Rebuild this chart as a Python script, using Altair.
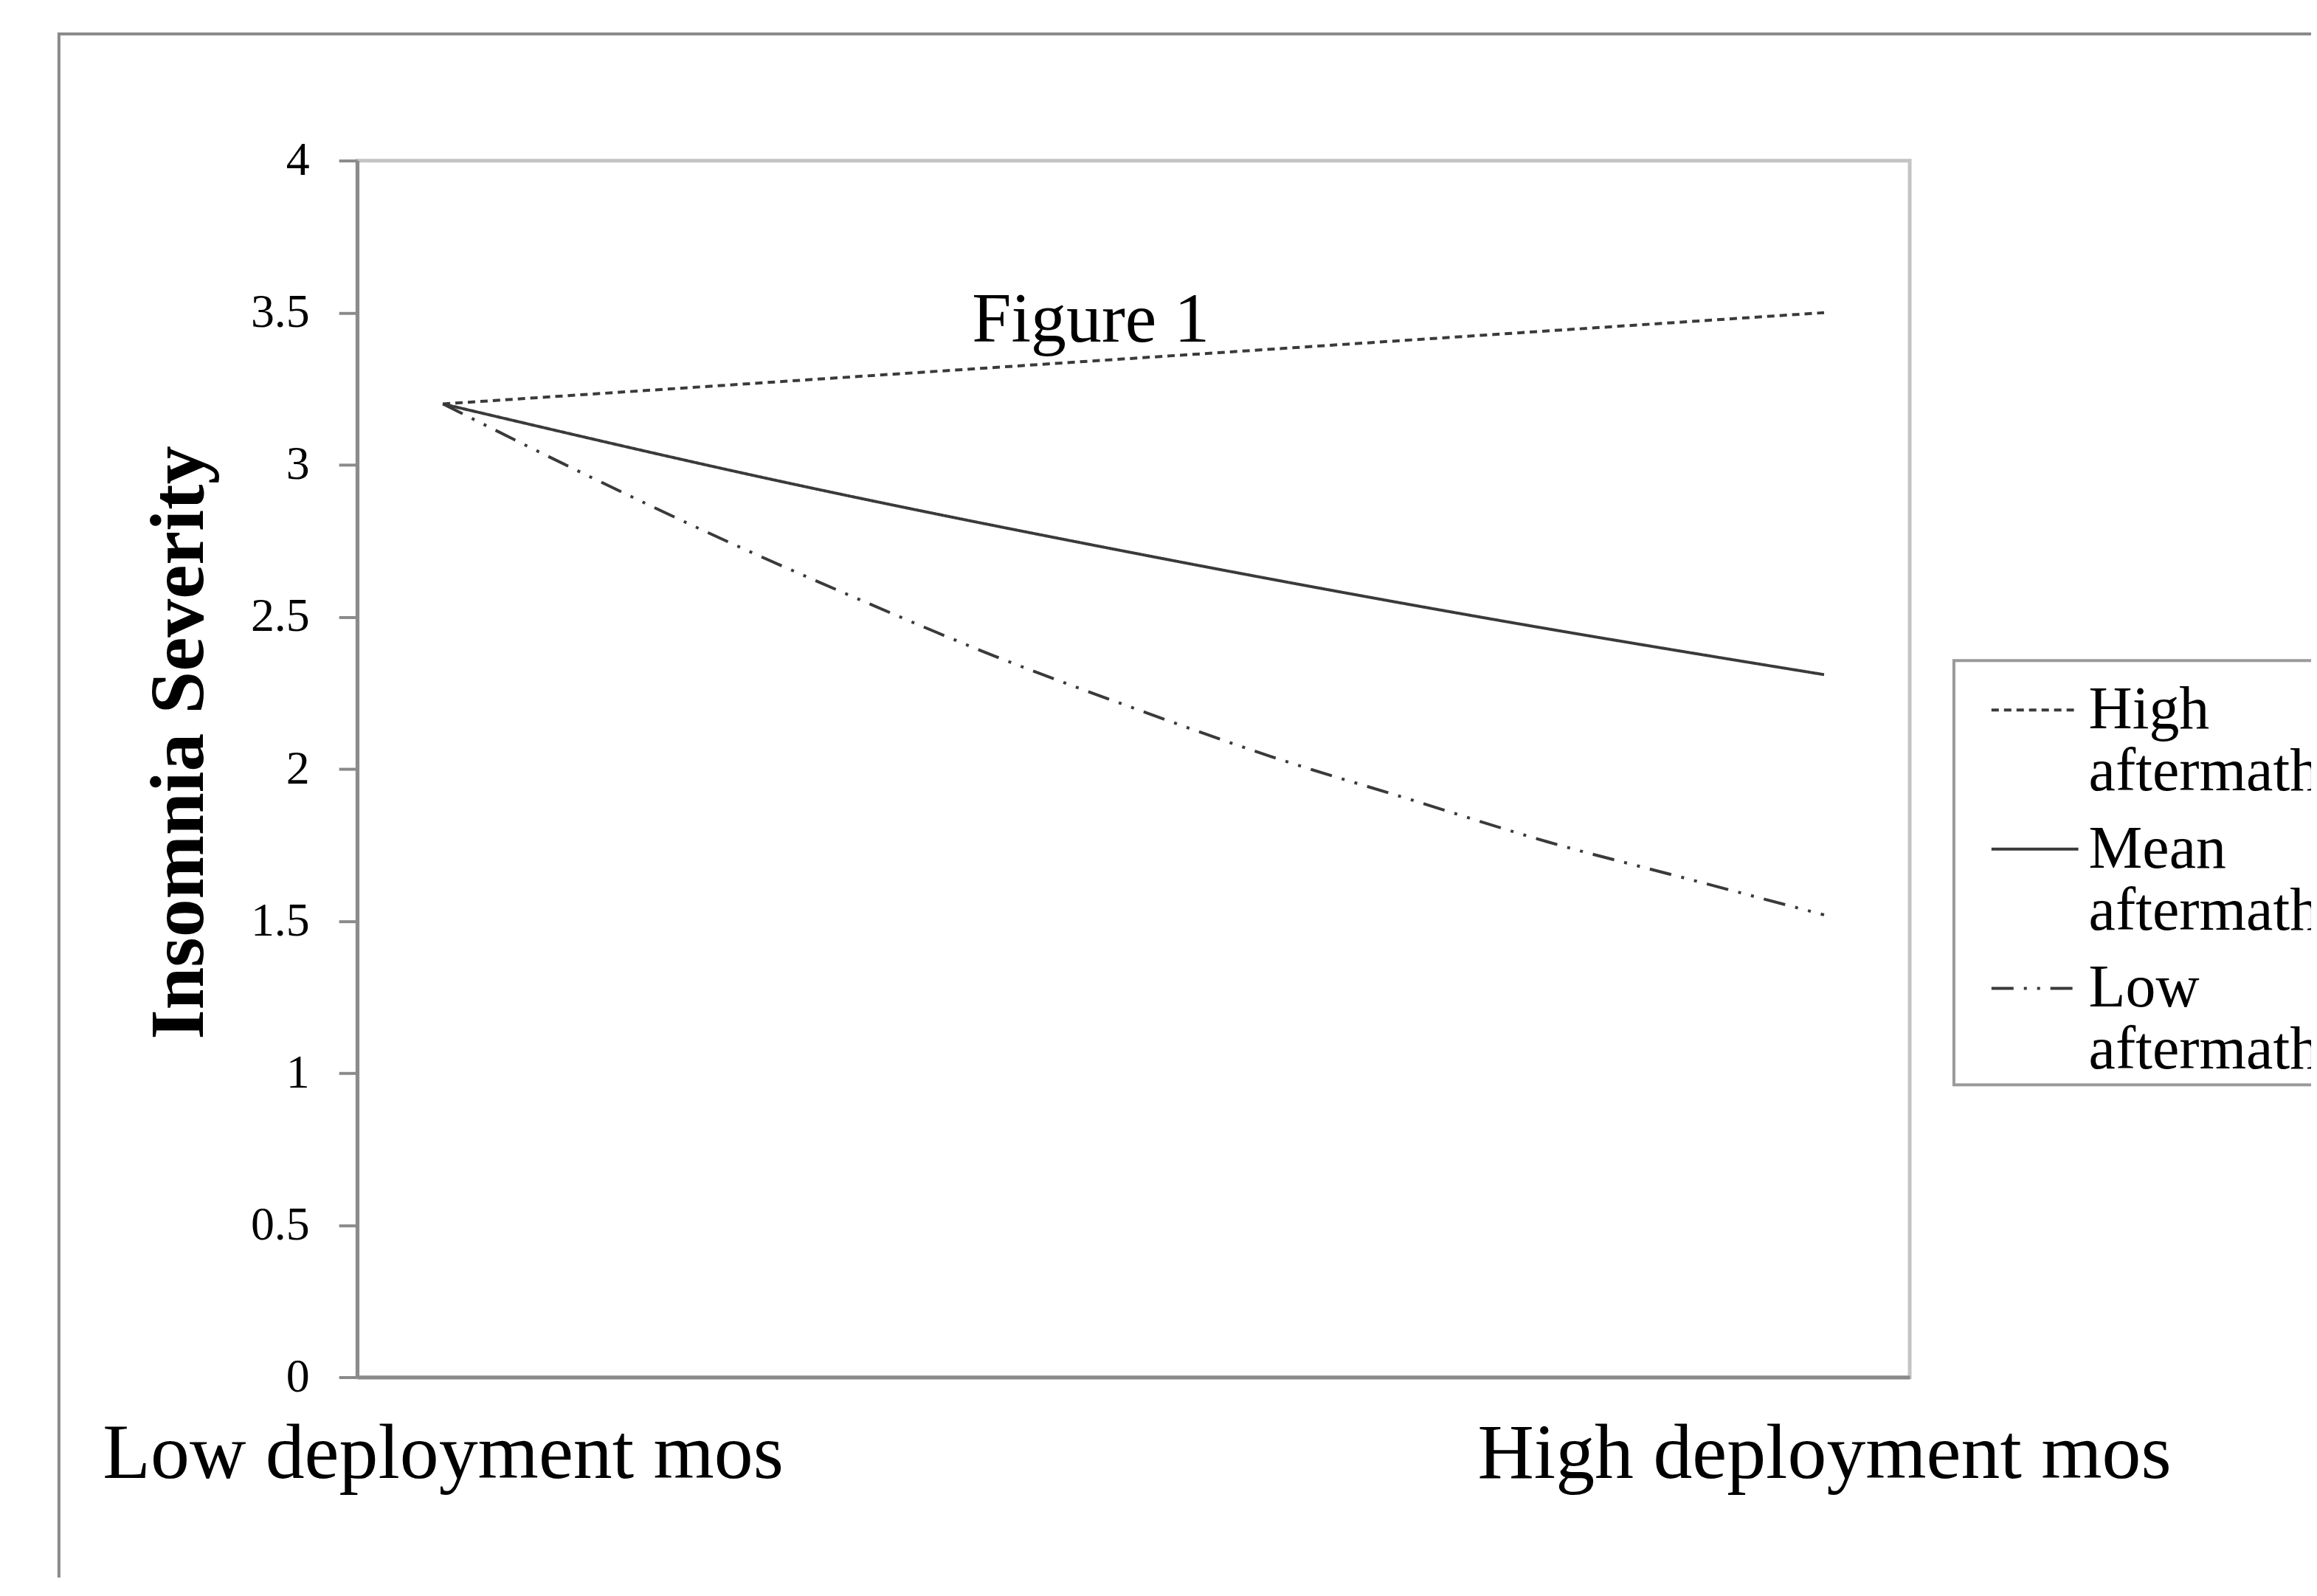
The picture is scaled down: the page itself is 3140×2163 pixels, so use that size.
import altair as alt
import pandas as pd

# ---------------- data ----------------
series = ["High aftermath", "Mean aftermath", "Low aftermath"]

high_x = [0.0, 1.0]
high_y = [3.20, 3.50]

mean_x = [0.0, 0.25, 0.5, 0.75, 1.0]
mean_y = [3.20, 2.94, 2.71, 2.50, 2.31]

low_x = [0.0, 0.1, 0.2, 0.3, 0.4, 0.5, 0.6, 0.7, 0.8, 0.9, 1.0]
low_y = [3.20, 2.975, 2.76, 2.56, 2.37, 2.20, 2.04, 1.90, 1.76, 1.64, 1.52]

y_ticks = [0, 0.5, 1, 1.5, 2, 2.5, 3, 3.5, 4]
x_label_values = [0, 1]
x_labels = ["Low deployment mos", "High deployment mos"]
y_title = "Insomnia Severity"
fig_label = "Figure 1"

df = pd.DataFrame({
    "series": [series[0]] * len(high_x) + [series[1]] * len(mean_x) + [series[2]] * len(low_x),
    "x": high_x + mean_x + low_x,
    "y": high_y + mean_y + low_y,
})
one = pd.DataFrame({"k": [0]})

FONT = "Liberation Serif"
AXIS_GRAY = "#8a8a8a"
LINE = "#3a3a3a"

x_scale = alt.Scale(domain=[-0.062, 1.062], nice=False, zero=False)
y_scale = alt.Scale(domain=[0, 4], nice=False, zero=True)

label_expr = f"datum.value == 0 ? '{x_labels[0]}' : '{x_labels[1]}'"

lines = alt.Chart(df).mark_line(strokeWidth=4, color=LINE, interpolate="monotone").encode(
    x=alt.X("x:Q", scale=x_scale, axis=alt.Axis(
        values=x_label_values, labelExpr=label_expr, title=None, ticks=False, grid=False,
        labelFont=FONT, labelFontSize=106, labelColor="black", labelBaseline="alphabetic",
        labelPadding=136, labelFlush=False, labelOverlap=False, labelLimit=3000,
        domainColor=AXIS_GRAY, domainWidth=5)),
    y=alt.Y("y:Q", scale=y_scale, axis=alt.Axis(
        values=y_ticks, format="~g", title=y_title, grid=False,
        labelFont=FONT, labelFontSize=64, labelColor="black", labelPadding=40,
        tickSize=25, tickWidth=4, tickColor=AXIS_GRAY,
        domainColor=AXIS_GRAY, domainWidth=5,
        titleFont=FONT, titleFontSize=104, titleFontWeight="bold", titleColor="black",
        titleAngle=270, titleX=-241, titleY=790, titleAlign="center", titleBaseline="middle")),
    strokeDash=alt.StrokeDash("series:N", scale=alt.Scale(
        domain=series, range=[[10, 7], [1, 0], [30, 14, 4, 14, 4, 14]]),
        legend=alt.Legend(
            orient="none", legendX=2168, legendY=679, title=None,
            labelFont=FONT, labelFontSize=82, labelColor="black", labelLimit=3000,
            labelExpr="split(datum.label, ' ')", labelBaseline="middle", labelOffset=12,
            symbolType="stroke", symbolSize=13924, symbolStrokeWidth=4,
            symbolStrokeColor=LINE, symbolOffset=43,
            padding=6, rowPadding=3, strokeColor="#9a9a9a", fillColor="white")),
)

frame = alt.Chart(one).mark_rect(fill="transparent", stroke=AXIS_GRAY, strokeWidth=4).encode(
    x=alt.value(-405), x2=alt.value(3200), y=alt.value(-172), y2=alt.value(2400))

title_text = alt.Chart(one).mark_text(
    text=fig_label, font=FONT, fontSize=96, align="center", baseline="alphabetic", color="black"
).encode(x=alt.value(996), y=alt.value(246))

chart = alt.layer(frame, lines, title_text).properties(
    width=2108, height=1652,
    autosize=alt.AutoSizeParams(type="none"),
    padding={"left": 477, "top": 208, "right": 545, "bottom": 270},
    background="white",
).configure_view(stroke="#c4c4c4", strokeWidth=5).configure_legend(strokeWidth=4)

chart.save("out.html", embed_options={"renderer": "svg", "actions": False})
